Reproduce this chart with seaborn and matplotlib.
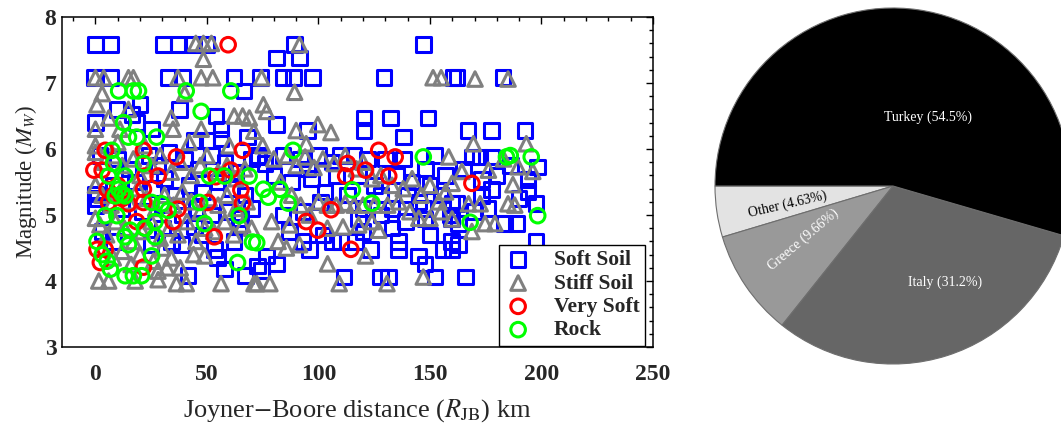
import numpy as np
import pandas as pd
import matplotlib
matplotlib.use("Agg")
import matplotlib.pyplot as plt
from matplotlib.ticker import MultipleLocator
from matplotlib.transforms import Bbox, TransformedBbox
import seaborn as sns

# ---------------- data ----------------
soft_x = [0, 6.7, 30.4, 37, 44, 50, 89.3, 147, 81.2, 91.5,
          -0.5, 6.7, 32.6, 39.3, 62.2, 74.1, 84.1, 88.9, 97.4, 129.3, 160.3, 162.1, 182.8,
          66.7, 20, 9.6, 37.8, 54, 16.3, 0, 18.5, 25.2, 56.3, 81.2, 95.2, 120.4, 132.2, 149.2, 120.4, 138.1, 167, 177.6, 192.7,
          56.3, 68.1, 44.4, 50,
          2, 10, 15, 24, 28, 33, 40, 46, 52, 58, 63, 70, 72.6,
          0, 1, 0, 8, 18, 26, 31, 36, 42, 48, 55, 61, 67,
          12, 21, 30, 39, 45, 52, 59, 65, 70,
          34, 38.5, 44.4, 53.3, 57.8, 67.4, 41.5, 72.6, 62.2, 64.4, 54.8, 30, 25, 48, 8, 3,
          73, 76, 80, 84, 88, 92, 95, 97, 100, 103, 106, 108, 110, 113, 116, 118, 120, 122, 125, 128,
          130, 133, 135, 138, 140, 142, 145, 148, 150, 152, 155, 157, 159, 101, 93, 84, 118, 128, 139, 147,
          111.5, 127.8, 131.5, 152.2, 74.5, 81.2, 76.7, 144.8, 147.7, 135.9, 155.9, 123.3, 106.3, 110, 116.7,
          96, 93, 133, 135.9, 150, 159.6, 147.7, 159.6, 87, 102, 120,
          168.8, 172.5, 177.6, 198.3, 193.9, 193.9, 197.6, 173.2, 177.6, 173.2, 162.1, 159.9, 183.5, 188.7,
          162.8, 197.6, 162.8, 159.9, 165.8, 165, 180, 186, 170, 190, 176]
soft_y = [7.58, 7.58, 7.58, 7.58, 7.58, 7.58, 7.58, 7.58, 7.38, 7.38,
          7.08, 7.08, 7.08, 7.08, 7.08, 7.08, 7.08, 7.08, 7.08, 7.08, 7.08, 7.08, 7.08,
          6.88, 6.67, 6.6, 6.6, 6.5, 6.52, 6.4, 6.4, 6.3, 6.3, 6.37, 6.28, 6.47, 6.47, 6.47, 6.28, 6.18, 6.28, 6.28, 6.28,
          6.15, 6.18, 6.13, 6.13,
          5.9, 5.85, 5.7, 5.9, 5.75, 5.95, 5.85, 5.7, 5.9, 5.8, 5.65, 5.85, 5.88,
          5.32, 5.25, 5.14, 5.45, 5.5, 5.4, 5.55, 5.3, 5.45, 5.35, 5.5, 5.4, 5.3,
          5.1, 5.05, 5.15, 5.0, 5.1, 5.0, 5.05, 4.95, 5.1,
          4.6, 4.55, 4.82, 4.48, 4.18, 4.08, 4.08, 4.23, 4.6, 4.82, 4.36, 4.8, 4.55, 4.7, 4.6, 4.75,
          5.9, 5.78, 5.6, 5.9, 5.5, 5.85, 5.7, 5.55, 5.9, 5.35, 5.8, 5.6, 5.9, 5.3, 5.9, 5.6, 5.1, 5.85, 5.45, 5.3,
          5.85, 5.1, 5.6, 5.85, 5.3, 5.5, 5.2, 5.7, 5.45, 5.9, 5.3, 5.6, 5.0, 5.2, 5.05, 5.0, 4.95, 5.0, 4.9, 5.1,
          4.06, 4.06, 4.06, 4.06, 4.16, 4.26, 4.38, 4.38, 4.26, 4.48, 4.48, 4.48, 4.6, 4.6, 4.6,
          4.48, 4.6, 4.8, 4.6, 4.7, 4.6, 4.94, 4.94, 4.75, 4.7, 4.75,
          5.88, 5.88, 5.88, 5.73, 5.54, 5.36, 5.17, 5.54, 5.39, 5.29, 5.17, 5.17, 4.87, 4.87,
          4.87, 4.6, 4.55, 4.48, 4.06, 5.7, 5.6, 5.75, 5.05, 5.25, 5.1]

stiff_x = [45, 48.4, 52, 91.5, 48.4,
           0, 3.7, 14.8, 17, 37, 47.4, 52.6, 74.5, 151.4, 155, 170.2, 185,
           3, 40, 89.3, 0.7, 14.8, 75.3, 76.7,
           6, 34, 62.2, 66, 69, 0, 11, 34.8, 47.4, 71, 90, 99.7, 105.6,
           94.5, 169.5, 193.2, 75, 0, 10, 22, 42, 60,
           0, 4, 8, 12, 17, 20, 25, 29, 34, 38, 43, 47, 50, 55, 59, 63, 67,
           0, 3, 7, 11, 15, 19, 23, 27, 31, 35, 39, 43, 47, 51, 55, 59, 63, 68,
           0, 2, 5, 9, 13, 17, 21, 25, 29, 33, 37, 41, 45, 49, 53, 58, 62, 66, 70,
           3, 8, 12, 16, 20, 26, 30, 34, 38, 44, 48.9, 28, 32,
           1.5, 5.9, 17.8, 28.1, 36.3, 40.7, 56.3, 71.1,
           80, 86, 90, 94, 98, 102, 107, 112, 117, 120, 124, 128, 133, 138, 142, 146, 150, 154, 157,
           83, 88, 92, 96, 100, 104, 108, 112, 116, 120, 125, 131, 136, 141, 145, 150, 155,
           79, 87, 104, 111, 118, 124,
           72.3, 78.2, 109.3, 130.7, 147, 104.1, 121.1, 127, 91.5, 85.6, 81.9,
           158.4, 164.3, 159.9, 176.2, 189.5, 196.1, 187.2, 167.3, 172.5, 185, 188, 159.9, 174.7, 179.1, 168.8, 183]
stiff_y = [7.6, 7.6, 7.6, 7.58, 7.36,
           7.08, 7.08, 7.08, 7.08, 7.08, 7.08, 7.08, 7.08, 7.08, 7.08, 7.06, 7.06,
           6.84, 6.84, 6.86, 6.67, 6.6, 6.67, 6.57,
           6.47, 6.47, 6.5, 6.5, 6.47, 6.3, 6.3, 6.3, 6.3, 6.27, 6.28, 6.37, 6.25,
           6.08, 6.08, 6.08, 6.05, 6.05, 6.1, 6.05, 6.1, 6.05,
           5.95, 5.8, 5.9, 5.75, 5.85, 5.6, 5.75, 5.9, 5.65, 5.8, 5.6, 5.75, 5.9, 5.65, 5.75, 5.55, 5.7,
           5.45, 5.3, 5.15, 5.35, 5.2, 5.4, 5.25, 5.1, 5.3, 5.15, 5.35, 5.2, 5.05, 5.25, 5.15, 5.3, 5.1, 5.2,
           4.95, 4.85, 4.7, 4.9, 4.8, 4.6, 4.75, 4.9, 4.65, 4.8, 4.7, 4.9, 4.6, 4.8, 4.75, 4.9, 4.7, 4.85, 4.8,
           4.5, 4.35, 4.45, 4.25, 4.4, 4.3, 4.5, 4.35, 4.2, 4.4, 4.38, 4.15, 4.2,
           4.0, 4.0, 4.0, 4.02, 3.96, 3.96, 3.96, 3.96,
           5.85, 5.9, 5.75, 5.88, 5.72, 5.85, 5.78, 5.9, 5.7, 5.8, 5.55, 5.6, 5.45, 5.4, 5.55, 5.3, 5.45, 5.2, 5.35,
           5.5, 5.3, 5.15, 5.0, 5.2, 5.15, 5.15, 5.18, 5.15, 5.15, 5.15, 5.15, 5.2, 5.05, 4.95, 4.95, 5.05,
           4.9, 4.85, 4.8, 4.82, 4.85, 4.9,
           3.96, 3.96, 3.96, 3.96, 4.06, 4.26, 4.38, 4.77, 4.55, 4.5, 4.6,
           5.88, 5.66, 5.48, 5.68, 5.73, 5.66, 5.46, 5.17, 5.17, 5.17, 5.15, 4.94, 4.87, 4.87, 4.75, 5.85]

vsoft_x = [59.5, 4.4, 21.5, 65.9, 36.3, -0.7, 3, 22.2, 28.1, 60.7, 54, 5.2, 21.5, 65.2, 5.9, 14.8, 21.5, 37,
           50.4, 65.9, 18.5, 34.8, 22.2, 53.3, 0.7, 4.4, 2.2, 21.5,
           127, 134.4, 113, 121.1, 112.2, 131.5, 105.6, 94.5, 99.7, 114.5, 168.8, 8, 12, 10]
vsoft_y = [7.58, 5.98, 5.98, 5.98, 5.88, 5.68, 5.68, 5.59, 5.59, 5.68, 5.58, 5.39, 5.39, 5.38, 5.19, 5.17, 5.19, 5.09,
           5.19, 5.18, 4.9, 4.9, 4.8, 4.67, 4.48, 4.48, 4.28, 4.21,
           5.98, 5.88, 5.78, 5.68, 5.59, 5.59, 5.08, 4.9, 4.77, 4.48, 5.48, 5.3, 5.25, 5.45]

rock_x = [10.4, 17, 19.3, 40.7, 60.7, 47.4, 12.6, 14.8, 18.5, 27.4,
          7.4, 8.1, 21.5, 5.9, 13.3, 51.1, 57.8, 68.9, 10.4, 11.9, 8.9, 13.3, 25.2, 29.6, 32.6, 46.7,
          4.4, 9.6, 64.4, 26.7, 48.9, 15.6, 22.2, 13.3, 14.8, 26.7, 0.7, 70.4, 3, 5.2, 6.7, 25.2,
          13.3, 17, 20.7, 63.7,
          88.6, 147, 115.2, 124, 75.3, 82.7, 77.5, 86.4, 72.3,
          184.3, 186, 195.4, 198.3, 168]
rock_y = [6.88, 6.88, 6.88, 6.88, 6.88, 6.57, 6.4, 6.18, 6.18, 6.18,
          5.98, 5.78, 5.78, 5.59, 5.59, 5.59, 5.59, 5.59, 5.39, 5.32, 5.29, 5.29, 5.19, 5.17, 5.07, 5.19,
          4.99, 4.99, 4.99, 4.9, 4.87, 4.77, 4.8, 4.67, 4.55, 4.67, 4.6, 4.59, 4.4, 4.3, 4.18, 4.38,
          4.08, 4.08, 4.08, 4.28,
          5.98, 5.88, 5.38, 5.18, 5.39, 5.39, 5.27, 5.18, 4.58,
          5.88, 5.9, 5.88, 4.99, 4.89]

site_names = ["Soft Soil", "Stiff Soil", "Very Soft Soil", "Rock"]
site_colors = ["#0000ff", "#808080", "#ff0000", "#00ff00"]
site_markers = ["s", "^", "o", "o"]

country_names = ["Other", "Greece", "Italy", "Turkey"]
country_share = [4.63, 9.66, 31.2, 54.5]
country_colors = ["#e3e3e3", "#999999", "#666666", "#000000"]
country_text_colors = ["black", "white", "white", "white"]

# ---------------- style ----------------
sns.set_style("white")
plt.rcParams["font.family"] = ["Liberation Serif", "DejaVu Serif"]
plt.rcParams["mathtext.fontset"] = "stix"

fig = plt.figure(figsize=(10.61, 4.23), dpi=100)
ax = fig.add_axes([62 / 1061, 1 - 347 / 423, (653 - 62) / 1061, (347 - 17) / 423])

frames = [pd.DataFrame({"x": sx, "y": sy, "site": name})
          for sx, sy, name in zip([soft_x, stiff_x, vsoft_x, rock_x],
                                  [soft_y, stiff_y, vsoft_y, rock_y], site_names)]
for df, name, col, mk in zip(frames, site_names, site_colors, site_markers):
    sns.scatterplot(data=df, x="x", y="y", ax=ax, marker=mk, s=110, color=col,
                    facecolor="none", edgecolor=col, linewidth=2.2, label=name)

ax.set_xlim(-15, 250)
ax.set_ylim(3, 8)
ax.xaxis.set_major_locator(MultipleLocator(50))
ax.xaxis.set_minor_locator(MultipleLocator(10))
ax.yaxis.set_major_locator(MultipleLocator(1))
ax.yaxis.set_minor_locator(MultipleLocator(0.2))
ax.tick_params(which="both", direction="in", top=True, right=True, width=1.0, color="black")
ax.tick_params(which="major", length=5)
ax.tick_params(which="minor", length=3)
ax.tick_params(axis="x", which="major", pad=12)
ax.tick_params(axis="y", which="major", pad=4)
for lab in ax.get_xticklabels() + ax.get_yticklabels():
    lab.set_fontsize(17)
    lab.set_fontweight("bold")
for sp in ax.spines.values():
    sp.set_color("black")
    sp.set_linewidth(1.1)

ax.set_xlabel(r"Joyner$-$Boore distance ($R_{\mathrm{JB}}$) km", fontsize=19, labelpad=9)
ax.set_ylabel(r"Magnitude ($M_W$)", fontsize=16.5, labelpad=4)

# legend with a fixed frame width (as in the original, the long label is cut at the frame)
leg_anchor = (0.739, 0.004, 0.247, 0.3)
leg = ax.legend(loc="lower right", bbox_to_anchor=leg_anchor, mode="expand",
                frameon=True, fancybox=False, edgecolor="black", framealpha=1,
                borderpad=0.25, labelspacing=0.15, handlelength=1.3, handletextpad=1.0,
                borderaxespad=0.0, prop={"weight": "bold", "size": 15.5})
leg.get_frame().set_linewidth(1.0)
clip = TransformedBbox(Bbox.from_bounds(*leg_anchor), ax.transAxes)
for t in leg.get_texts():
    t.set_clip_box(clip)
    t.set_clip_on(True)

# ---------------- pie ----------------
pax = fig.add_axes([715 / 1061, 1 - 364 / 423, 356 / 1061, 356 / 423])
wedges, _ = pax.pie(country_share, colors=country_colors, startangle=180, counterclock=True,
                    wedgeprops=dict(edgecolor="#6e6e6e", linewidth=0.8))
pax.set_xlim(-1, 1)
pax.set_ylim(-1, 1)
pax.set_axis_off()

label_pos = {"Turkey": (0.197, 0.388, 0), "Italy": (0.292, -0.538, 0),
             "Greece": (-0.504, -0.303, 40), "Other": (-0.594, -0.101, 13)}
for name, share, tc in zip(country_names, country_share, country_text_colors):
    px, py, rot = label_pos[name]
    pax.text(px, py, f"{name} ({share}%)", color=tc, fontsize=10, ha="center", va="center",
             rotation=rot)

fig.savefig("out.png", dpi=100)
